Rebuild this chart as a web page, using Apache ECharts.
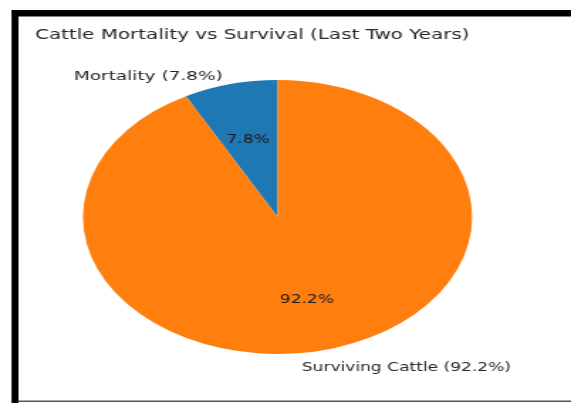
<!DOCTYPE html>
<html><head><meta charset="utf-8">
<script src="https://cdn.jsdelivr.net/npm/echarts@6/dist/echarts.min.js"></script>
<style>
html,body{margin:0;padding:0;background:#fff;overflow:hidden}
#wrap{position:absolute;left:0;top:0;width:571px;height:403px;overflow:hidden;background:#fff}
#chart{position:absolute;left:0;top:0;width:402px;height:403px;transform:scaleX(1.4204);transform-origin:0 0}
</style></head>
<body><div id="wrap"><div id="chart"></div></div>
<script>
// ---- data ----
const categories = ['Mortality', 'Surviving Cattle'];
const values = [7.8, 92.2];
const colors = ['#1f77b4', '#ff7f0e'];
const titleText = 'Cattle Mortality vs Survival (Last Two Years)';

// ---- layout (the source image is stretched horizontally) ----
const SX = 1.4204;
const FONT = "'DejaVu Sans', 'Liberation Sans', sans-serif";
const CX = 195.4, CY = 217, R = 137;
const TEXT = '#262626';

const pieData = categories.map((c, i) => ({
  name: c, value: values[i], itemStyle: { color: colors[i] },
  label: { fontSize: i === 0 ? 13 : 12 }
}));

const chart = echarts.init(document.getElementById('chart'), null, { renderer: 'canvas' });
chart.setOption({
  backgroundColor: 'rgba(0,0,0,0)',
  animation: false,
  title: {
    text: titleText,
    left: 35 / SX,
    top: 28,
    padding: 0,
    textStyle: { fontFamily: FONT, fontSize: 14, fontWeight: 'normal', color: TEXT }
  },
  graphic: [
    { type: 'rect', shape: { x: 12 / SX, y: 10, width: (571 - 12) / SX, height: 6.5 }, style: { fill: '#000' }, silent: true },
    { type: 'rect', shape: { x: 11.5 / SX, y: 10, width: 7 / SX, height: 393 }, style: { fill: '#000' }, silent: true },
    { type: 'rect', shape: { x: 18 / SX, y: 400.5, width: 553 / SX, height: 1.5 }, style: { fill: '#555' }, silent: true }
  ],
  series: [
    {
      type: 'pie',
      center: [CX, CY],
      radius: [0, R],
      startAngle: 90,
      clockwise: false,
      avoidLabelOverlap: false,
      silent: true,
      data: pieData,
      label: {
        show: true,
        position: 'outside',
        formatter: p => p.name + ' (' + p.value.toFixed(1) + '%)',
        fontFamily: FONT, fontSize: 12, color: TEXT,
        distanceToLabelLine: 3
      },
      labelLine: { show: false, length: 9.7, length2: 0 },
      labelLayout: p => (p.dataIndex === 1 ? { dx: -21.5, dy: 9 } : { dy: 1.5 }),
      emphasis: { disabled: true }
    },
    {
      type: 'pie',
      center: [CX, CY],
      radius: [0, R * 1.2],
      startAngle: 90,
      clockwise: false,
      avoidLabelOverlap: false,
      silent: true,
      z: 5,
      data: categories.map((c, i) => ({ name: c, value: values[i] })),
      itemStyle: { color: 'rgba(0,0,0,0)' },
      label: {
        show: true,
        position: 'inside',
        formatter: p => p.value.toFixed(1) + '%',
        fontFamily: FONT, fontSize: 12, color: '#1a1a1a'
      },
      labelLine: { show: false },
      labelLayout: p => (p.dataIndex === 0 ? { dy: 6 } : {}),
      emphasis: { disabled: true }
    }
  ]
});
</script>
</body></html>
